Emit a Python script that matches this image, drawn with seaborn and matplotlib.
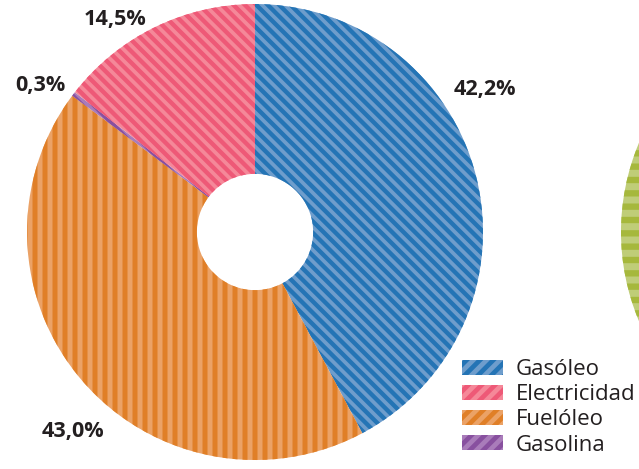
import matplotlib
matplotlib.use("Agg")
import matplotlib.pyplot as plt
from matplotlib.patches import Patch
import seaborn as sns

# Data (legend order)
categorias = ["Gasóleo", "Electricidad", "Fuelóleo", "Gasolina"]
valores = [42.2, 14.5, 43.0, 0.3]
etiquetas = ["42,2%", "14,5%", "43,0%", "0,3%"]
# order of the slices clockwise from 12 o'clock
orden_tarta = ["Gasóleo", "Fuelóleo", "Gasolina", "Electricidad"]

# second (cut off) chart on the right, only its green part is visible
segunda_valores = [100.0]

colores_oscuros = {
    "Gasóleo": "#2474b5",
    "Electricidad": "#ee5977",
    "Fuelóleo": "#e07f27",
    "Gasolina": "#88509f",
}
colores_claros = {
    "Gasóleo": "#6e9dcc",
    "Electricidad": "#f58899",
    "Fuelóleo": "#eba266",
    "Gasolina": "#a97cba",
}
tramas = {"Gasóleo": "\\" * 7, "Electricidad": "\\" * 7, "Fuelóleo": "||||", "Gasolina": "\\" * 7}
grosor_trama = {"Gasóleo": 1.3, "Electricidad": 1.3, "Fuelóleo": 1.5, "Gasolina": 1.3}

sns.set_theme(style="white")
plt.rcParams["font.family"] = ["Open Sans", "DejaVu Sans"]
plt.rcParams["hatch.linewidth"] = 1.4

DPI = 240
W, H = 639, 469
fig = plt.figure(figsize=(W / DPI, H / DPI), dpi=DPI)


def px_axes(cx, cy, r):
    # axes square centred on (cx, cy) in pixels from top-left
    return fig.add_axes([(cx - r) / W, 1 - (cy + r) / H, 2 * r / W, 2 * r / H])


def set_trama(patch, hatch, color, lw):
    patch.set_edgecolor(color)
    patch.set_hatch(hatch)
    patch.set_linewidth(0)
    if hasattr(patch, "set_hatch_linewidth"):
        patch.set_hatch_linewidth(lw)


# Main donut
ax = px_axes(255, 232, 228)
vals = [valores[categorias.index(c)] for c in orden_tarta]
wedges, _ = ax.pie(
    vals,
    startangle=90,
    counterclock=False,
    colors=[colores_claros[c] for c in orden_tarta],
    wedgeprops=dict(width=0.745, linewidth=0),
)
for w, c in zip(wedges, orden_tarta):
    set_trama(w, tramas[c], colores_oscuros[c], grosor_trama[c])
ax.set_xlim(-1, 1)
ax.set_ylim(-1, 1)
ax.axis("off")

# Second donut, mostly outside the figure
ax2 = px_axes(851, 232, 230)
w2, _ = ax2.pie(segunda_valores, colors=["#bfcd78"], wedgeprops=dict(width=0.745, linewidth=0))
for w in w2:
    set_trama(w, "---", "#a6b83c", 1.9)
ax2.set_xlim(-1, 1)
ax2.set_ylim(-1, 1)
ax2.axis("off")

# Percentage labels
pos_etiquetas = {
    "Gasóleo": (485, 90),
    "Electricidad": (115, 19),
    "Fuelóleo": (73, 431),
    "Gasolina": (40, 86),
}
for c, t in zip(categorias, etiquetas):
    x, y = pos_etiquetas[c]
    fig.text(x / W, 1 - y / H, t, ha="center", va="center",
             fontsize=6.5, fontweight="bold", color="#231f20")

# Legend
handles = []
for c in categorias:
    p = Patch(facecolor=colores_claros[c], edgecolor=colores_oscuros[c], hatch="//////", linewidth=0)
    if hasattr(p, "set_hatch_linewidth"):
        p.set_hatch_linewidth(1.4)
    handles.append(p)
fig.legend(
    handles, categorias,
    loc="upper left", bbox_to_anchor=(462 / W, 1 - 359 / H),
    frameon=False, fontsize=6.7, handlelength=1.85, handleheight=0.65,
    handletextpad=0.55, labelspacing=0.19, borderpad=0, borderaxespad=0,
    labelcolor="#231f20",
)

fig.savefig("out.png", dpi=DPI)
